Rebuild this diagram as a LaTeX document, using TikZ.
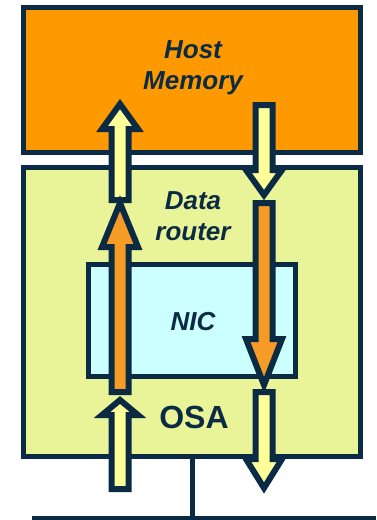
\documentclass[tikz,border=0pt]{standalone}
\usepackage{fontspec}
\newfontfamily\osafont{Liberation Sans}
\definecolor{navy}{HTML}{0B2B45}
\definecolor{hostorange}{HTML}{FF9900}
\definecolor{routergreen}{HTML}{E9F499}
\definecolor{niccyan}{HTML}{CCFFFF}
\definecolor{pathyellow}{HTML}{FFFF99}
\definecolor{pathorange}{HTML}{F59B26}

\begin{document}
\begin{tikzpicture}[x=1pt, y=-1pt,
    box/.style={draw=navy, line width=5pt, inner sep=0pt, outer sep=0pt},
    lbl/.style={text=navy, font=\osafont\bfseries\itshape\fontsize{26}{31}\selectfont, align=center, anchor=base},
    flow/.style={draw=navy, line width=6pt, line join=miter},
    bus/.style={draw=navy, line width=5pt}]
    \useasboundingbox (0, 0) rectangle (376, 520);
            % boxes
            \node[box, fill=hostorange, minimum width=337pt, minimum height=145pt] (host) at (192, 80) {};
            \node[box, fill=routergreen, minimum width=337pt, minimum height=289pt] (router) at (192, 312) {};
            \node[box, fill=niccyan, minimum width=207pt, minimum height=112pt] (nic) at (192, 320.5) {};
            % labels
            \node[lbl] (hostlbl) at (193, 89) {Host\\Memory};
            \node[lbl] (routerlbl) at (193, 240) {Data\\router};
            \node[lbl] (niclbl) at (193, 330) {NIC};
            \node[lbl, font=\osafont\bfseries\fontsize{32}{38}\selectfont] (osalbl) at (194, 428) {OSA};
            % inbound path (up)
            \filldraw[flow, fill=pathyellow] (111.5, 200)--(111.5, 129)--(102, 129)--(120, 104)--(138, 129)--(128.5, 129)--(128.5, 200)--cycle;
            \filldraw[flow, fill=pathorange] (111.5, 392)--(111.5, 247)--(102, 247)--(120, 203)--(138, 247)--(128.5, 247)--(128.5, 392)--cycle;
            \filldraw[flow, fill=pathyellow] (111.5, 489)--(111.5, 415)--(102, 415)--(120, 400)--(138, 415)--(128.5, 415)--(128.5, 489)--cycle;
            % outbound path (down)
            \filldraw[flow, fill=pathyellow] (255.5, 392)--(255.5, 459)--(246, 459)--(264, 488)--(282, 459)--(272.5, 459)--(272.5, 392)--cycle;
            \filldraw[flow, fill=pathorange] (255.5, 203)--(255.5, 339)--(246, 339)--(264, 385)--(282, 339)--(272.5, 339)--(272.5, 203)--cycle;
            \filldraw[flow, fill=pathyellow] (255.5, 105)--(255.5, 170)--(246, 170)--(264, 195)--(282, 170)--(272.5, 170)--(272.5, 105)--cycle;
            % network
            \coordinate (tap) at (192, 518);
            \coordinate (lanwest) at (32, 518);
            \coordinate (laneast) at (376, 518);
            \draw[bus] (router.south) -- (tap);
            \draw[bus] (lanwest) -- (laneast);
        \end{tikzpicture}
\end{document}
